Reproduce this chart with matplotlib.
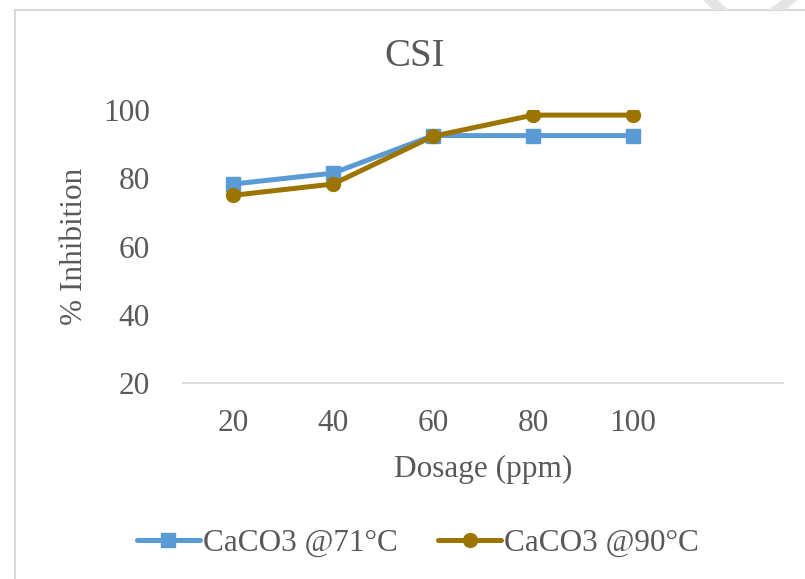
import matplotlib
matplotlib.use('Agg')
import matplotlib.pyplot as plt
from matplotlib.patches import Rectangle, Polygon

dosage = ['20', '40', '60', '80', '100']
inhib_71 = [78.3, 81.5, 92.5, 92.5, 92.5]
inhib_90 = [75.0, 78.3, 92.3, 98.5, 98.5]
yticks = [20, 40, 60, 80, 100]

plt.rcParams['font.family'] = ['Liberation Serif', 'DejaVu Serif']
txt = '#595959'

fig = plt.figure(figsize=(8.05, 5.79), dpi=100)
ax = fig.add_axes([183/805, 1-383/579, 600/805, 273/579])

x = range(len(dosage))
ax.plot(x, inhib_71, color='#5B9BD5', lw=3.6, marker='s', ms=9.5,
        label='CaCO3 @71°C', solid_capstyle='round')
ax.plot(x, inhib_90, color='#9C7500', lw=3.6, marker='o', ms=10,
        label='CaCO3 @90°C', solid_capstyle='round')

ax.set_xlim(-0.5, 5.5)
ax.set_ylim(20, 100)
ax.set_xticks(list(x))
ax.set_xticklabels(dosage)
ax.set_yticks(yticks)
ax.tick_params(length=0, labelsize=22.5, colors=txt)
ax.tick_params(axis='x', pad=19)
ax.tick_params(axis='y', pad=24)
for s in ['top', 'right', 'left']:
    ax.spines[s].set_visible(False)
ax.spines['bottom'].set_color('#D9D9D9')
ax.spines['bottom'].set_linewidth(1.3)
ax.set_xlabel('Dosage (ppm)', fontsize=22.5, color=txt, labelpad=12)
ax.set_ylabel('% Inhibition', fontsize=22.5, color=txt, labelpad=10)
fig.text(415/805, 1-57/579, 'CSI', fontsize=28, color=txt, ha='center', va='center')

leg = fig.legend(loc='center', bbox_to_anchor=(418/805, 1-543/579), ncol=2,
                 frameon=False, fontsize=22.5, handlelength=2.0, handletextpad=0.1,
                 columnspacing=1.3, labelcolor=txt)

# chart border
fig.patches.append(Rectangle((15/805, -0.1), 1.0, 1-10/579+0.1, transform=fig.transFigure,
                             fill=False, ec='#D9D9D9', lw=1.5))
# faint watermark pieces at top-right
fig.patches.append(Polygon([(703/805, 1.0), (718/805, 1.0), (728/805, 1-10/579), (713/805, 1-10/579)],
                           closed=True, transform=fig.transFigure, fc='#E4E4E4', ec='none'))
fig.patches.append(Polygon([(782/805, 1.0), (797/805, 1.0), (785/805, 1-10/579), (768/805, 1-10/579)],
                           closed=True, transform=fig.transFigure, fc='#E4E4E4', ec='none'))

fig.savefig('out.png', dpi=100)
